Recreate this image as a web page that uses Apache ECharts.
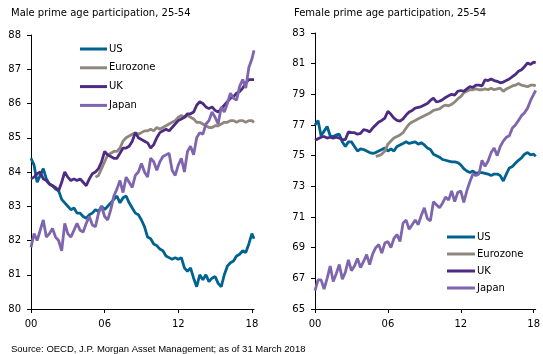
<!DOCTYPE html>
<html>
<head>
<meta charset="utf-8">
<script src="https://cdn.jsdelivr.net/npm/echarts@6/dist/echarts.min.js"></script>
<style>html,body{margin:0;padding:0;background:#fff;}#c{width:543px;height:354px;}</style>
</head>
<body>
<div id="c"></div>
<script>
// Time points: quarterly from 2000 (0 = 2000) to early 2018
const times = Array.from({length: 73}, (_, i) => i / 4).concat([18.17]);
const xTicks = [0, 6, 12, 18];
const names = ['US', 'Eurozone', 'UK', 'Japan'];

// Male prime age participation, 25-54
const maleUS = [84.4,84.2,83.7,83.9,84.1,83.8,83.65,83.6,83.5,83.45,83.2,83.1,83.0,82.9,82.95,82.8,82.8,82.7,82.65,82.75,82.8,82.9,82.85,83.0,82.9,83.0,83.1,83.2,83.3,83.1,83.25,83.3,83.1,82.95,82.8,82.75,82.6,82.4,82.1,82.05,81.9,81.85,81.75,81.7,81.55,81.5,81.45,81.5,81.45,81.5,81.2,81.1,81.2,80.9,80.65,81.0,80.85,81.0,80.8,80.9,80.95,80.75,80.65,81.0,81.25,81.35,81.4,81.55,81.6,81.7,81.65,81.9,82.2,82.05];
const maleEZ = [null,null,null,null,null,null,null,null,null,null,null,null,null,null,null,null,null,null,null,null,null,83.85,83.9,84.1,84.3,84.5,84.55,84.6,84.6,84.7,84.9,85.0,85.05,85.1,85.15,85.1,85.15,85.2,85.2,85.25,85.2,85.3,85.25,85.3,85.35,85.4,85.45,85.5,85.6,85.65,85.6,85.65,85.6,85.55,85.45,85.45,85.4,85.35,85.3,85.3,85.35,85.35,85.4,85.45,85.45,85.5,85.5,85.45,85.5,85.5,85.45,85.5,85.5,85.45];
const maleUK = [83.8,83.85,83.95,84.0,83.8,83.75,83.65,83.6,83.55,83.45,83.7,84.0,83.85,83.75,83.8,83.75,83.8,83.7,83.6,83.8,83.95,84.0,84.1,84.3,84.6,84.5,84.45,84.4,84.4,84.55,84.7,84.7,84.75,84.9,85.15,85.0,84.95,84.9,84.85,84.7,84.8,85.0,85.15,85.2,85.25,85.2,85.3,85.4,85.5,85.55,85.6,85.7,85.7,85.75,85.95,86.05,86.0,85.9,85.85,85.9,85.8,85.75,85.85,85.95,86.05,86.15,86.2,86.3,86.35,86.45,86.6,86.7,86.7,86.7];
const maleJP = [81.8,82.2,82.0,82.3,82.6,82.1,82.2,82.35,82.1,82.0,81.7,82.5,82.2,82.1,82.3,82.5,82.3,82.25,82.5,82.7,82.45,82.4,82.8,83.0,82.7,82.6,82.9,83.3,83.5,83.75,83.4,83.85,83.7,83.55,83.9,84.0,84.25,84.0,83.85,84.4,84.3,84.05,84.3,84.45,84.5,84.55,84.05,83.9,84.2,84.4,84.0,84.6,84.75,84.5,85.0,85.15,85.1,85.4,85.5,85.75,85.6,85.4,85.9,85.75,86.0,86.3,86.15,86.1,86.5,86.7,86.45,87.05,87.3,87.55];

// Female prime age participation, 25-54
const femUS = [77.0,77.3,76.3,76.6,76.9,76.3,76.25,76.35,76.4,75.9,75.6,75.9,75.9,75.6,75.3,75.45,75.4,75.3,75.2,75.15,75.2,75.3,75.4,75.5,75.3,75.45,75.3,75.6,75.7,75.8,75.9,75.8,75.85,75.9,75.75,75.85,75.7,75.5,75.4,75.1,75.0,74.9,74.75,74.7,74.65,74.6,74.6,74.55,74.4,74.15,74.0,73.9,74.0,73.85,73.9,73.9,73.85,73.8,73.7,73.8,73.8,73.7,73.35,73.8,74.2,74.3,74.5,74.7,74.85,75.1,75.2,75.05,75.1,74.95];
const femEZ = [null,null,null,null,null,null,null,null,null,null,null,null,null,null,null,null,null,null,null,null,74.95,75.0,75.1,75.3,75.75,75.95,76.15,76.25,76.35,76.5,76.8,77.05,77.2,77.3,77.4,77.5,77.6,77.7,77.8,77.95,78.0,78.05,78.2,78.3,78.25,78.35,78.5,78.7,78.85,79.1,79.2,79.3,79.3,79.35,79.3,79.3,79.35,79.3,79.4,79.3,79.35,79.4,79.2,79.35,79.45,79.55,79.6,79.7,79.6,79.55,79.5,79.6,79.6,79.55];
const femUK = [76.0,76.1,76.2,76.25,76.15,76.2,76.15,76.2,76.15,76.05,76.05,76.55,76.5,76.5,76.4,76.45,76.7,76.65,76.55,76.8,77.0,77.2,77.3,77.45,77.9,77.7,77.45,77.3,77.25,77.4,77.65,77.85,77.95,78.1,78.15,78.2,78.3,78.4,78.6,78.75,78.5,78.55,78.65,78.8,78.9,79.0,78.95,79.2,79.25,79.2,79.35,79.5,79.45,79.6,79.6,79.55,79.95,79.9,80.0,79.9,79.85,79.75,79.8,79.9,80.0,80.15,80.3,80.5,80.6,80.8,81.05,80.95,81.1,81.05];
const femJP = [66.2,66.9,66.9,66.3,67.0,67.8,66.8,67.3,67.9,66.95,67.4,68.2,67.5,67.8,68.3,67.7,68.1,68.55,67.9,68.6,69.0,69.2,68.65,69.3,69.4,69.0,69.6,69.85,69.4,70.6,70.8,70.2,70.5,70.8,70.5,71.1,71.6,70.9,70.75,72.0,71.8,71.6,71.9,72.3,72.1,72.7,72.0,72.6,72.7,71.95,72.7,73.3,73.8,73.7,73.8,74.7,74.3,74.65,75.2,75.5,75.0,75.6,75.95,76.2,76.3,76.8,77.0,77.3,77.6,77.8,78.1,78.6,79.0,79.25];

const maleTicks = [80, 81, 82, 83, 84, 85, 86, 87, 88];
const femTicks = [65, 67, 69, 71, 73, 75, 77, 79, 81, 83];

const colors = ['#00628F', '#8E877D', '#4D2B82', '#7F65AE'];
const FONT = 'DejaVu Sans';

function pairs(vals) { return times.map((t, i) => [t, vals[i]]); }

function mkSeries(vals, idx, gi) {
  return {
    name: names[idx], type: 'line', xAxisIndex: gi, yAxisIndex: gi,
    data: pairs(vals), showSymbol: false, symbol: 'none', connectNulls: false,
    lineStyle: {width: 2.8, color: colors[idx]}, itemStyle: {color: colors[idx]},
    animation: false, z: 2 + idx
  };
}

function xAxis(gi) {
  return {
    type: 'value', gridIndex: gi, min: 0, max: 18.17,
    axisLine: {show: true, lineStyle: {color: '#000', width: 1}},
    axisTick: {show: true, length: 4, customValues: xTicks, lineStyle: {color: '#000'}},
    axisLabel: {customValues: xTicks, fontFamily: FONT, fontSize: 10, color: '#000', margin: 10,
      formatter: v => String(Math.round(v)).padStart(2, '0')},
    splitLine: {show: false}
  };
}
function yAxis(gi, mn, mx, ticks) {
  return {
    type: 'value', gridIndex: gi, min: mn, max: mx,
    axisLine: {show: true, lineStyle: {color: '#000', width: 1}},
    axisTick: {show: true, length: 4, customValues: ticks, lineStyle: {color: '#000'}},
    axisLabel: {customValues: ticks, fontFamily: FONT, fontSize: 10, color: '#000', margin: 10},
    splitLine: {show: false}
  };
}

const chart = echarts.init(document.getElementById('c'), null, {renderer: 'canvas'});
chart.setOption({
  backgroundColor: '#fff',
  animation: false,
  title: [
    {text: 'Male prime age participation, 25-54', left: 6, top: 3,
      textStyle: {fontFamily: FONT, fontSize: 10, fontWeight: 'normal', color: '#000'}},
    {text: 'Female prime age participation, 25-54', left: 289, top: 3,
      textStyle: {fontFamily: FONT, fontSize: 10, fontWeight: 'normal', color: '#000'}},
    {text: 'Source: OECD, J.P. Morgan Asset Management; as of 31 March 2018', left: 6, top: 339,
      textStyle: {fontFamily: 'Liberation Sans', fontSize: 9.5, fontWeight: 'normal', color: '#000'}}
  ],
  grid: [
    {left: 31, top: 35, width: 223, height: 274},
    {left: 315, top: 33, width: 223, height: 276}
  ],
  xAxis: [xAxis(0), xAxis(1)],
  yAxis: [yAxis(0, 80, 88, maleTicks), yAxis(1, 65, 83, femTicks)],
  legend: [
    {orient: 'vertical', left: 75, top: 38, itemWidth: 27, itemHeight: 3, itemGap: 6.8, icon: 'rect',
      data: names, selectedMode: false,
      textStyle: {fontFamily: FONT, fontSize: 10, color: '#000', padding: [0, 0, 0, -3], lineHeight: 12}},
    {orient: 'vertical', left: 442, top: 226, itemWidth: 28, itemHeight: 3, itemGap: 5, icon: 'rect',
      data: names, selectedMode: false,
      textStyle: {fontFamily: FONT, fontSize: 10, color: '#000', padding: [0, 0, 0, -3], lineHeight: 12}}
  ],
  series: [
    mkSeries(maleUS, 0, 0), mkSeries(maleEZ, 1, 0), mkSeries(maleUK, 2, 0), mkSeries(maleJP, 3, 0),
    mkSeries(femUS, 0, 1), mkSeries(femEZ, 1, 1), mkSeries(femUK, 2, 1), mkSeries(femJP, 3, 1)
  ]
});
</script>
</body>
</html>
